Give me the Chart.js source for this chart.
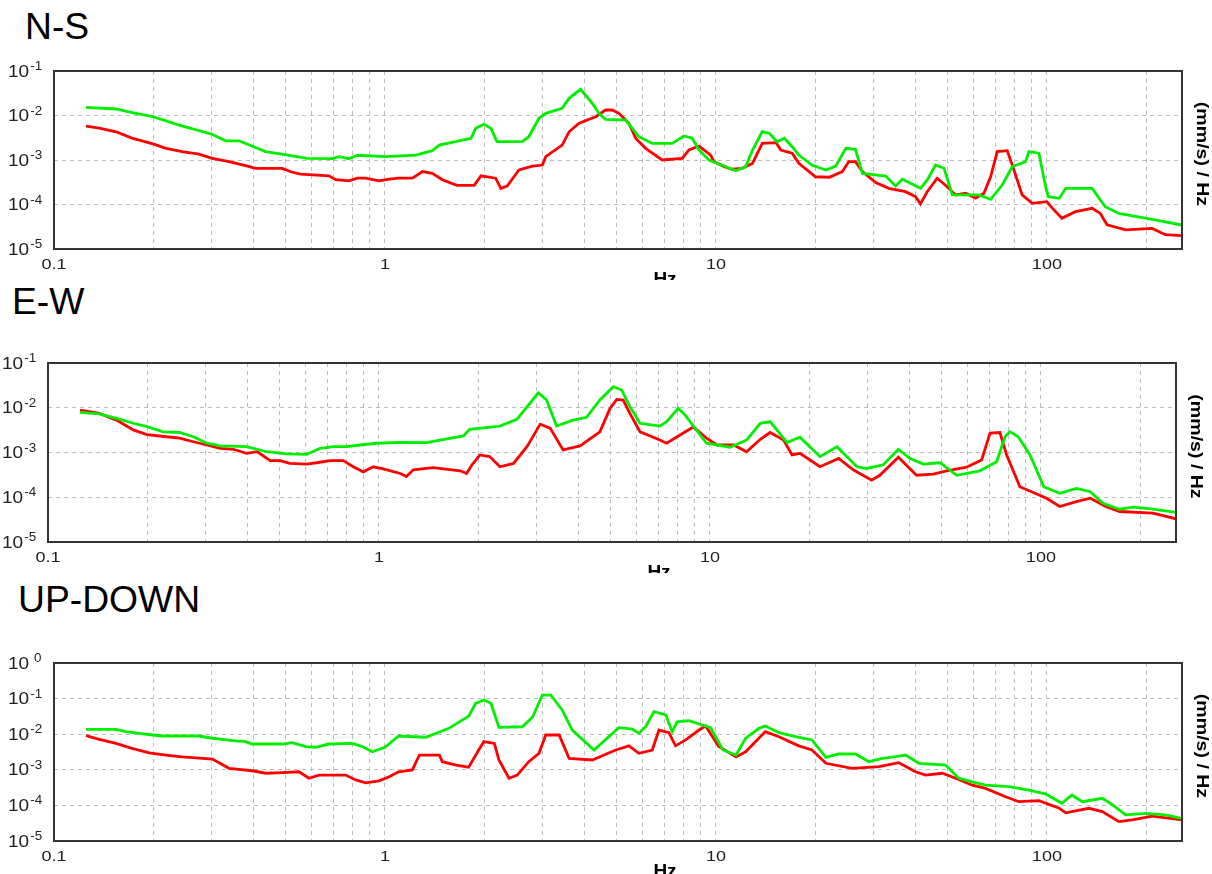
<!DOCTYPE html>
<html>
<head>
<meta charset="utf-8">
<title>N-S / E-W / UP-DOWN spectra</title>
<script src="https://cdn.jsdelivr.net/npm/chart.js@4.4.1/dist/chart.umd.min.js"></script>
<style>
  body { margin: 0; background: #fff; width: 1212px; height: 874px; overflow: hidden; position: relative;
         font-family: "Liberation Sans", Arial, sans-serif; }
  .title { position: absolute; font-size: 36px; line-height: 36px; color: #000; white-space: nowrap;
           transform: scaleX(1.035); transform-origin: left top; }
  canvas { position: absolute; left: 0; }
</style>
</head>
<body>
<div class="title" style="left:25px;top:9px">N-S</div>
<div class="title" style="left:12px;top:284px">E-W</div>
<div class="title" style="left:18px;top:582px">UP-DOWN</div>
<canvas id="ns" width="1212" height="230" style="top:50px"></canvas>
<canvas id="ew" width="1212" height="233" style="top:340px"></canvas>
<canvas id="ud" width="1212" height="234" style="top:640px"></canvas>

<script>
  /////////////////////////////////////
 /*             AXES                */
/////////////////////////////////////

var xGridHz = [0.1,0.2,0.3,0.4,0.5,0.6,0.7,0.8,0.9,1,2,3,4,5,6,7,8,9,10,20,30,40,50,60,70,80,90,100,200];
var xTickLabels = [0.1, 1, 10, 100];
var yDecades = [1e-5, 1e-4, 1e-3, 1e-2, 1e-1];
var yDecadesUD = [1e-5, 1e-4, 1e-3, 1e-2, 1e-1, 1];

  /////////////////////////////////////
 /*         N-S SPECTRA             */
/////////////////////////////////////

var nsGreenHz = [0.125,0.154,0.172,0.199,0.239,0.30,0.33,0.362,0.436,0.493,0.581,0.692,0.726,0.778,0.825,1.0,1.24,1.39,1.46,1.82,1.88,1.99,2.09,2.18,2.6,2.72,2.92,3.06,3.43,3.6,3.9,4.23,4.43,4.64,5.34,5.85,6.42,7.38,8.0,8.48,8.89,9.53,11.5,12.3,12.9,13.8,14.5,15.3,16.1,17.0,17.8,19.5,21.5,23.0,24.7,26.4,27.7,32.6,34.9,36.6,41.5,43.5,46.1,48.9,51.8,62.3,67.6,73.3,78.6,86.2,88.2,94.6,99.1,101,109,114,137,150,165,208,256];
var nsGreen = [1.53e-2,1.40e-2,1.16e-2,9.4e-3,6.1e-3,3.8e-3,2.7e-3,2.7e-3,1.54e-3,1.34e-3,1.09e-3,1.07e-3,1.19e-3,1.07e-3,1.28e-3,1.19e-3,1.29e-3,1.62e-3,2.17e-3,3.08e-3,5.16e-3,6.34e-3,5.16e-3,2.58e-3,2.58e-3,3.34e-3,8.65e-3,1.12e-2,1.45e-2,2.43e-2,3.88e-2,1.88e-2,1.12e-2,8.2e-3,7.9e-3,3.34e-3,2.37e-3,2.37e-3,3.46e-3,3.08e-3,1.68e-3,1.0e-3,5.75e-4,7.07e-4,1.68e-3,4.33e-3,3.98e-3,2.58e-3,3.08e-3,1.99e-3,1.29e-3,7.7e-4,5.96e-4,7.3e-4,1.83e-3,1.74e-3,5.0e-4,4.37e-4,2.61e-4,3.68e-4,2.31e-4,3.56e-4,7.72e-4,6.51e-4,1.64e-4,1.64e-4,1.31e-4,2.74e-4,7.07e-4,9.16e-4,1.54e-3,1.42e-3,2.51e-4,1.5e-4,1.38e-4,2.31e-4,2.31e-4,8.9e-5,6.3e-5,4.65e-5,3.46e-5];

var nsRedHz = [0.125,0.137,0.154,0.172,0.199,0.218,0.244,0.274,0.301,0.338,0.379,0.407,0.489,0.525,0.556,0.677,0.71,0.778,0.825,0.875,0.959,1.03,1.1,1.21,1.3,1.39,1.49,1.65,1.86,1.95,2.16,2.24,2.34,2.54,2.79,2.99,3.06,3.43,3.6,3.86,4.33,4.64,4.86,5.09,5.46,5.72,6.13,6.88,7.91,8.29,8.89,9.64,9.86,10.6,11.2,12.0,12.9,13.8,15.2,15.7,17.0,17.8,20.0,22.0,24.1,25.2,26.4,27.7,30.4,33.3,37.4,40.1,41.5,43.5,46.6,49.4,53.0,56.8,60.9,64.5,67.6,70.8,75.9,79.5,84.2,90.3,100,104,111,122,137,145,152,173,208,228,256];
var nsRed = [5.8e-3,5.2e-3,4.3e-3,3.1e-3,2.3e-3,1.83e-3,1.54e-3,1.36e-3,1.09e-3,9.2e-4,7.5e-4,6.5e-4,6.5e-4,5.3e-4,4.8e-4,4.4e-4,3.6e-4,3.4e-4,3.9e-4,3.9e-4,3.4e-4,3.7e-4,3.9e-4,3.9e-4,5.5e-4,5.0e-4,3.6e-4,2.7e-4,2.7e-4,4.4e-4,3.9e-4,2.3e-4,2.6e-4,6.0e-4,7.3e-4,7.7e-4,1.19e-3,2.17e-3,4.3e-3,6.7e-3,9.4e-3,1.33e-2,1.33e-2,1.12e-2,6.7e-3,3.1e-3,1.83e-3,1.0e-3,1.09e-3,1.68e-3,2.06e-3,1.29e-3,9.2e-4,7.1e-4,6.2e-4,6.5e-4,8.4e-4,2.37e-3,2.45e-3,1.68e-3,1.42e-3,8.4e-4,4.2e-4,4.1e-4,5.5e-4,9.2e-4,9.2e-4,5.5e-4,3.1e-4,2.3e-4,1.94e-4,1.5e-4,1.03e-4,1.94e-4,3.9e-4,2.7e-4,1.64e-4,1.79e-4,1.38e-4,1.79e-4,4.2e-4,1.54e-3,1.62e-3,6.0e-4,1.64e-4,1.06e-4,1.16e-4,8.2e-5,4.9e-5,6.9e-5,8.2e-5,6.3e-5,3.5e-5,2.7e-5,2.9e-5,2.1e-5,2.0e-5];

  /////////////////////////////////////
 /*         E-W SPECTRA             */
/////////////////////////////////////

var ewGreenHz = [0.125,0.143,0.161,0.181,0.199,0.223,0.25,0.275,0.302,0.331,0.398,0.458,0.526,0.605,0.664,0.728,0.799,0.876,0.984,1.16,1.39,1.8,1.88,2.32,2.61,2.86,3.03,3.21,3.44,3.86,4.24,4.65,5.11,5.41,5.73,6.15,7.06,7.4,8.02,8.41,9.01,9.77,11.5,12.9,14.2,15.2,17.1,18.7,21.5,24.2,27.8,29.7,33.4,37.1,40.2,44.1,49.6,55.7,65.4,73.5,77.9,80.6,85.4,92.7,102,114,128,141,154,173,190,218,256];
var ewGreen = [7.9e-3,7.3e-3,5.8e-3,4.5e-3,3.8e-3,2.9e-3,2.8e-3,2.25e-3,1.61e-3,1.4e-3,1.35e-3,1.04e-3,9.3e-4,9.1e-4,1.24e-3,1.35e-3,1.35e-3,1.47e-3,1.61e-3,1.69e-3,1.66e-3,2.34e-3,3.3e-3,3.9e-3,5.5e-3,1.26e-2,2.17e-2,1.49e-2,3.9e-3,5.3e-3,6.1e-3,1.49e-2,2.95e-2,2.49e-2,1.06e-2,4.5e-3,3.9e-3,4.9e-3,9.7e-3,6.9e-3,3.5e-3,1.61e-3,1.31e-3,1.9e-3,4.5e-3,4.9e-3,1.66e-3,2.2e-3,8.1e-4,1.35e-3,4.8e-4,4.4e-4,5.3e-4,1.18e-3,7.4e-4,5.5e-4,5.9e-4,3.1e-4,3.9e-4,6.2e-4,2.25e-3,2.92e-3,2.25e-3,8.8e-4,1.72e-4,1.23e-4,1.58e-4,1.33e-4,7.3e-5,5.4e-5,6.0e-5,5.4e-5,4.6e-5];

var ewRedHz = [0.125,0.143,0.161,0.181,0.199,0.228,0.25,0.275,0.302,0.331,0.363,0.398,0.429,0.469,0.502,0.538,0.605,0.648,0.711,0.78,0.836,0.897,0.961,1.03,1.16,1.21,1.27,1.46,1.76,1.84,1.91,2.02,2.16,2.32,2.55,2.8,3.07,3.29,3.6,4.05,4.65,4.99,5.23,5.47,5.73,6.15,7.06,7.4,8.12,8.91,9.77,10.5,11.8,12.9,14.2,15.2,16.7,17.7,18.7,21.5,24.5,27.1,30.8,32.6,37.1,42.1,47.3,51.9,59.6,66.2,70.2,75.2,78.8,86.4,104,114,128,141,157,173,218,256];
var ewRed = [8.9e-3,7.5e-3,5.3e-3,3.2e-3,2.5e-3,2.25e-3,2.1e-3,1.74e-3,1.47e-3,1.24e-3,1.18e-3,9.6e-4,1.04e-3,6.6e-4,6.6e-4,5.7e-4,5.5e-4,5.9e-4,6.6e-4,6.6e-4,4.8e-4,3.7e-4,4.8e-4,4.3e-4,3.4e-4,2.9e-4,4.1e-4,4.6e-4,3.9e-4,3.4e-4,5.3e-4,8.8e-4,8.1e-4,4.8e-4,5.7e-4,1.35e-3,4.3e-3,3.5e-3,1.14e-3,1.4e-3,2.9e-3,9.7e-3,1.54e-2,1.49e-2,7.5e-3,2.9e-3,1.9e-3,1.61e-3,2.46e-3,3.7e-3,2.1e-3,1.47e-3,1.47e-3,1.04e-3,1.97e-3,2.8e-3,1.9e-3,8.8e-4,9.6e-4,4.8e-4,7.4e-4,4.1e-4,2.4e-4,3.1e-4,7.8e-4,3.1e-4,3.3e-4,3.9e-4,4.7e-4,6.8e-4,2.7e-3,2.8e-3,8.8e-4,1.72e-4,9.5e-5,6.2e-5,8.0e-5,9.5e-5,6.2e-5,4.8e-5,4.4e-5,3.3e-5];

  /////////////////////////////////////
 /*       UP-DOWN SPECTRA           */
/////////////////////////////////////

var udGreenHz = [0.125,0.154,0.165,0.181,0.199,0.212,0.274,0.301,0.346,0.379,0.397,0.489,0.525,0.576,0.618,0.677,0.797,0.854,0.916,1.0,1.1,1.33,1.56,1.79,1.88,1.99,2.09,2.21,2.6,2.79,2.99,3.17,3.43,3.68,4.28,5.09,5.59,5.85,6.13,6.5,7.05,7.38,7.64,8.29,9.09,9.64,10.5,11.5,12.3,13.5,14.1,15.5,17.8,19.5,21.5,23.5,26.4,29.0,31.8,34.9,37.4,41.1,49.4,54.2,59.5,65.3,76.8,88.2,99.1,111,119,128,147,158,173,199,228,256];
var udGreen = [1.37e-2,1.37e-2,1.18e-2,1.06e-2,9.5e-3,8.9e-3,8.9e-3,7.7e-3,6.6e-3,6.2e-3,5.3e-3,5.3e-3,5.8e-3,4.5e-3,4.3e-3,5.3e-3,5.55e-3,4.5e-3,3.2e-3,4.3e-3,8.9e-3,8.2e-3,1.46e-2,3.2e-2,7.4e-2,9.1e-2,7.4e-2,1.56e-2,1.62e-2,3.0e-2,0.126,0.126,4.8e-2,1.31e-2,3.6e-3,1.52e-2,1.4e-2,1.06e-2,1.62e-2,4.3e-2,3.5e-2,1.18e-2,2.24e-2,2.39e-2,1.81e-2,1.52e-2,3.6e-3,2.6e-3,7.7e-3,1.46e-2,1.7e-2,1.1e-2,8.2e-3,6.9e-3,2.24e-3,2.78e-3,2.78e-3,1.69e-3,2.1e-3,2.33e-3,2.6e-3,1.52e-3,1.36e-3,5.8e-4,4.6e-4,3.7e-4,3.35e-4,2.7e-4,2.1e-4,1.15e-4,1.96e-4,1.27e-4,1.58e-4,1.03e-4,5.4e-5,6.0e-5,5.4e-5,4.3e-5];

var udRedHz = [0.125,0.137,0.154,0.172,0.194,0.218,0.244,0.301,0.338,0.397,0.436,0.489,0.55,0.589,0.632,0.761,0.816,0.875,0.959,1.03,1.1,1.21,1.27,1.46,1.49,1.64,1.79,1.92,1.99,2.14,2.21,2.37,2.51,2.72,2.92,3.06,3.36,3.6,4.23,4.98,5.46,5.85,6.42,6.73,7.21,7.55,8.1,8.89,9.31,10.2,11.5,12.3,14.1,15.5,17.8,19.5,21.5,25.8,31.1,35.7,40.1,43.0,48.3,53.0,59.5,65.3,75.0,82.3,94.6,109,114,134,147,165,181,208,256];
var udRed = [9.1e-3,7.2e-3,5.5e-3,4.0e-3,3.0e-3,2.6e-3,2.3e-3,2.0e-3,1.1e-3,9.4e-4,8.0e-4,8.3e-4,8.8e-4,5.8e-4,7.1e-4,7.1e-4,5.2e-4,4.3e-4,4.9e-4,6.4e-4,8.8e-4,9.9e-4,2.6e-3,2.6e-3,1.69e-3,1.36e-3,1.18e-3,3.6e-3,6.2e-3,5.5e-3,1.89e-3,5.8e-4,7.1e-4,1.69e-3,2.9e-3,9.5e-3,9.5e-3,2.1e-3,1.89e-3,3.6e-3,4.7e-3,2.9e-3,3.6e-3,1.31e-2,1.1e-2,4.7e-3,6.9e-3,1.31e-2,1.7e-2,4.5e-3,2.3e-3,3.2e-3,1.18e-2,8.5e-3,4.7e-3,3.6e-3,1.52e-3,1.1e-3,1.22e-3,1.58e-3,8.8e-4,7.1e-4,8.0e-4,5.8e-4,3.7e-4,3.0e-4,1.75e-4,1.27e-4,1.36e-4,8.3e-5,6.2e-5,8.3e-5,6.7e-5,3.5e-5,3.9e-5,5.0e-5,3.9e-5];

var FONT = '"Liberation Sans", Arial, sans-serif';

function pairs(hz, vals) {
  return hz.map(function(f, i) { return {x: f, y: vals[i]}; });
}

  /////////////////////////////////////
 /*  FRAME, 10^n LABELS, UNIT TEXT  */
/////////////////////////////////////

var framePlugin = {
  id: 'frame',
  afterDraw: function(chart) {
    var ctx = chart.ctx, a = chart.chartArea;
    var xs = chart.scales.x, ys = chart.scales.y;
    ctx.save();

    ctx.strokeStyle = '#333';
    ctx.lineWidth = 2;
    ctx.strokeRect(a.left, a.top, a.right - a.left, a.bottom - a.top);

    // frequency labels (source text is a bit wide, so stretch a little)
    ctx.fillStyle = '#222';
    ctx.font = '15px ' + FONT;
    ctx.textAlign = 'center';
    ctx.textBaseline = 'middle';
    xTickLabels.forEach(function(v) {
      var px = xs.getPixelForValue(v);
      ctx.save();
      ctx.translate(px, a.bottom + 16);
      ctx.scale(1.2, 1);
      ctx.fillText(String(v), 0, 0);
      ctx.restore();
    });

    // 10 with exponent
    ys.ticks.forEach(function(t) {
      var py = ys.getPixelForValue(t.value);
      var e = Math.round(Math.log10(t.value));
      ctx.save();
      ctx.translate(a.left - 46, py);
      ctx.scale(1.12, 1);
      ctx.textAlign = 'left';
      ctx.font = '17px ' + FONT;
      ctx.textBaseline = 'middle';
      ctx.fillText('10', 0, 1);
      var w = ctx.measureText('10').width;
      ctx.font = '12px ' + FONT;
      ctx.textBaseline = 'alphabetic';
      ctx.fillText(e === 0 ? ' 0' : String(e), w + 1, -1);
      ctx.restore();
    });

    // Hz title, clipped by canvas bottom like the original
    ctx.fillStyle = '#000';
    ctx.font = 'bold 19px ' + FONT;
    ctx.textAlign = 'center';
    ctx.textBaseline = 'top';
    ctx.fillText('Hz', a.left + 611, a.bottom + 21);

    // unit on the right
    ctx.translate(a.right + 19.5, (a.top + a.bottom) / 2 - 6);
    ctx.rotate(Math.PI / 2);
    ctx.scale(1.15, 1);
    ctx.font = 'bold 17px ' + FONT;
    ctx.textBaseline = 'middle';
    ctx.fillText('(mm/s) / Hz', 0, 0);
    ctx.restore();
  }
};

function makePanel(id, green, red, yMax, decades, padTop, padRight, yWidth, xHeight) {
  var ctx = document.getElementById(id).getContext('2d');
  return new Chart(ctx, {
    type: 'line',
    data: {
      datasets: [
        { label: 'green', data: green, borderColor: 'rgb(0,238,0)', borderWidth: 2.8,
          pointRadius: 0, tension: 0, fill: false },
        { label: 'red', data: red, borderColor: 'rgb(255,0,0)', borderWidth: 2.8,
          pointRadius: 0, tension: 0, fill: false }
      ]
    },
    options: {
      responsive: false,
      animation: false,
      devicePixelRatio: 1,
      layout: { padding: { top: padTop, right: padRight, left: 0, bottom: 0 } },
      plugins: { legend: { display: false }, tooltip: { enabled: false } },
      scales: {
        x: {
          type: 'logarithmic', min: 0.1, max: 256,
          afterBuildTicks: function(s) { s.ticks = xGridHz.map(function(v) { return {value: v}; }); },
          afterFit: function(s) { s.height = xHeight; },
          ticks: { display: false, autoSkip: false },
          grid: { color: '#bdbdbd', lineWidth: 1, drawTicks: false },
          border: { display: false, dash: [4, 4] }
        },
        y: {
          type: 'logarithmic', min: 1e-5, max: yMax,
          afterBuildTicks: function(s) { s.ticks = decades.map(function(v) { return {value: v}; }); },
          afterFit: function(s) { s.width = yWidth; },
          ticks: { display: false },
          grid: { color: '#bdbdbd', lineWidth: 1, drawTicks: false },
          border: { display: false, dash: [4, 4] }
        }
      }
    },
    plugins: [framePlugin]
  });
}

makePanel('ns', pairs(nsGreenHz, nsGreen), pairs(nsRedHz, nsRed), 1e-1, yDecades, 21, 30, 54, 31);
makePanel('ew', pairs(ewGreenHz, ewGreen), pairs(ewRedHz, ewRed), 1e-1, yDecades, 23, 36, 48, 31);
makePanel('ud', pairs(udGreenHz, udGreen), pairs(udRedHz, udRed), 1, yDecadesUD, 23, 30, 54, 33);
</script>
</body>
</html>
